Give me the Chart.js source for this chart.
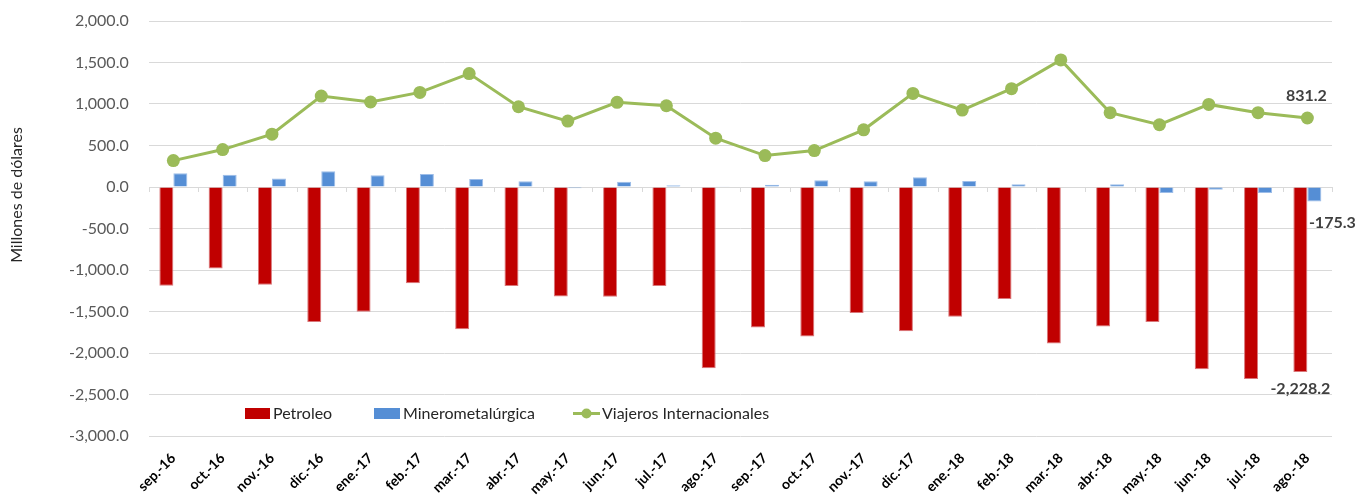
<!DOCTYPE html>
<html>
<head>
<meta charset="utf-8">
<script src="https://cdn.jsdelivr.net/npm/chart.js@4/dist/chart.umd.min.js"></script>
<style>
html,body{margin:0;padding:0;background:#fff;}
#wrap{width:1367px;height:497px;position:relative;}
</style>
</head>
<body>
<div id="wrap"><canvas id="c"></canvas></div>
<script>
const categories = ["sep.-16","oct.-16","nov.-16","dic.-16","ene.-17","feb.-17","mar.-17","abr.-17","may.-17","jun.-17","jul.-17","ago.-17","sep.-17","oct.-17","nov.-17","dic.-17","ene.-18","feb.-18","mar.-18","abr.-18","may.-18","jun.-18","jul.-18","ago.-18"];
const petroleo = [-1189,-983,-1177,-1628,-1503,-1161,-1713,-1193,-1318,-1322,-1193,-2184,-1693,-1801,-1519,-1737,-1564,-1350,-1886,-1680,-1628,-2196,-2313,-2228.2];
const minero = [165,149,101,189,141,157,97,69,-16,64,20,4,28,81,69,117,73,32,-5,32,-73,-32,-73,-175.3];
const viajeros = [318,451,637,1096,1024,1140,1366,967,794,1020,979,588,379,439,689,1128,927,1185,1531,895,750,995,895,831.2];
const seriesNames = ["Petroleo","Minerometalúrgica","Viajeros Internacionales"];
const yAxisTitle = "Millones de dólares";
const yMin = -3000, yMax = 2000, yStep = 500;

const FONT = "Lato, 'Open Sans', sans-serif";
const RED = "#C00000", BLUE = "#558ED5", GREEN = "#9BBB59";
const fmt = v => v.toLocaleString('en-US',{minimumFractionDigits:1,maximumFractionDigits:1});

const extras = {
  id:'extras',
  afterDatasetsDraw(chart){
    const ctx = chart.ctx;
    const x = chart.scales.x, y = chart.scales.y;
    const y0 = y.getPixelForValue(0);
    const n = categories.length;
    const w = (x.right - x.left)/n;
    ctx.save();
    ctx.strokeStyle = '#d9d9d9'; ctx.lineWidth = 1;
    for(let i=0;i<=n;i++){
      const px = Math.round(x.left + i*w)+0.5;
      ctx.beginPath(); ctx.moveTo(px,y0); ctx.lineTo(px,y0+5); ctx.stroke();
    }
    ctx.restore();
  },
  afterDraw(chart){
    const ctx = chart.ctx;
    const last = categories.length-1;
    ctx.save();
    ctx.fillStyle = '#404040';
    ctx.font = "bold 16px " + FONT;
    ctx.textAlign = 'center'; ctx.textBaseline = 'middle';
    const pl = chart.getDatasetMeta(2).data[last];
    ctx.fillText(fmt(viajeros[last]), pl.x-1, pl.y-22);
    const pb = chart.getDatasetMeta(1).data[last];
    ctx.fillText(fmt(minero[last]), pb.x+18, pb.y+21);
    const pr = chart.getDatasetMeta(0).data[last];
    ctx.fillText(fmt(petroleo[last]), pr.x, pr.y+17);
    ctx.font = "16px " + FONT;
    ctx.fillStyle = '#262626';
    ctx.translate(17, 195); ctx.rotate(-Math.PI/2);
    ctx.fillText(yAxisTitle, 0, 0);
    ctx.restore();
    ctx.save();
    ctx.font = "16px " + FONT;
    ctx.textAlign='left'; ctx.textBaseline='middle';
    const ly = 413.5;
    ctx.fillStyle = RED; ctx.fillRect(245, 408, 25, 11);
    ctx.fillStyle = '#262626'; ctx.fillText(seriesNames[0], 273, ly);
    ctx.fillStyle = BLUE; ctx.fillRect(374, 408, 26, 11);
    ctx.fillStyle = '#262626'; ctx.fillText(seriesNames[1], 403, ly);
    ctx.strokeStyle = GREEN; ctx.lineWidth = 3;
    ctx.beginPath(); ctx.moveTo(573, ly); ctx.lineTo(600, ly); ctx.stroke();
    ctx.fillStyle = GREEN; ctx.beginPath(); ctx.arc(586.5, ly, 5, 0, Math.PI*2); ctx.fill();
    ctx.fillStyle = '#262626'; ctx.fillText(seriesNames[2], 602, ly);
    ctx.restore();
  }
};

new Chart(document.getElementById('c'), {
  data:{
    labels: categories,
    datasets:[
      {type:'bar', label:seriesNames[0], data:petroleo, backgroundColor:RED, borderColor:'#d9777a', borderWidth:1, barPercentage:1, categoryPercentage:0.568, order:1},
      {type:'bar', label:seriesNames[1], data:minero, backgroundColor:BLUE, borderColor:'#9dbde8', borderWidth:1, barPercentage:1, categoryPercentage:0.568, order:1},
      {type:'line', label:seriesNames[2], data:viajeros, borderColor:GREEN, backgroundColor:GREEN, borderWidth:3, pointRadius:6.5, pointBackgroundColor:GREEN, pointBorderColor:GREEN, pointBorderWidth:0, tension:0, order:0}
    ]
  },
  options:{
    responsive:true, maintainAspectRatio:false, animation:false,
    layout:{padding:{top:21,right:35,bottom:0,left:0}},
    plugins:{legend:{display:false}, tooltip:{enabled:false}},
    scales:{
      x:{
        grid:{display:false}, border:{display:false},
        ticks:{autoSkip:false, maxRotation:45, minRotation:45, padding:6, color:'#000', font:{family:FONT, size:14, weight:'bold'}},
        afterFit(s){ s.height = 61; }
      },
      y:{
        min:yMin, max:yMax,
        grid:{color:'#d9d9d9', drawTicks:true, tickLength:17, tickColor:'rgba(0,0,0,0)', lineWidth:1},
        border:{display:false},
        ticks:{stepSize:yStep, padding:3, color:'#595959', font:{family:FONT, size:16}, callback:v=>fmt(v)},
        afterFit(s){ s.width = 148.7; }
      }
    }
  },
  plugins:[extras]
});
</script>
</body>
</html>
